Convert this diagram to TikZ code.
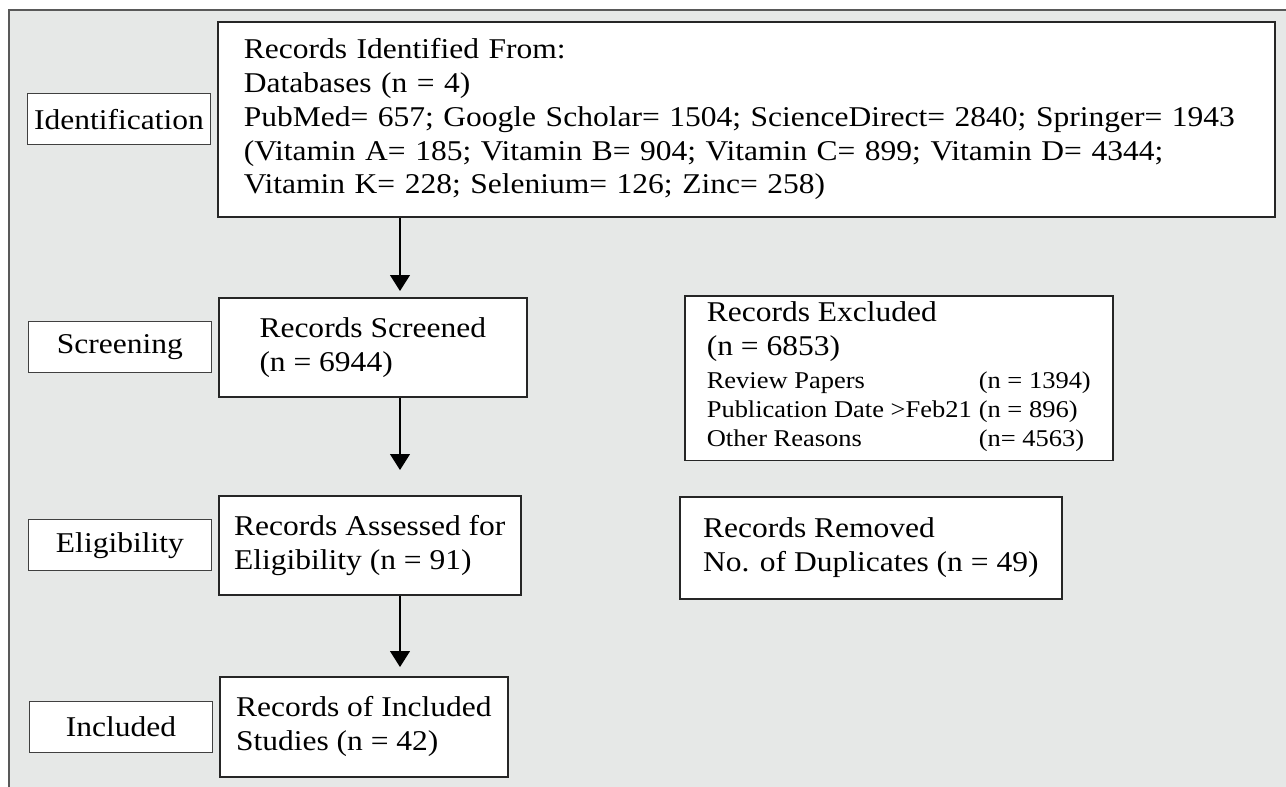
\documentclass[tikz,border=0pt]{standalone}
\usepackage{fontspec}
\setmainfont{Liberation Serif}[FakeStretch=1.1]
\usepackage{tikz}
\usetikzlibrary{arrows.meta, positioning}
\definecolor{panelgray}{HTML}{E6E8E7}

\begin{document}
\begin{tikzpicture}[
font=\fontsize{16.3}{19.2}\selectfont,
box/.style={rectangle, draw=black!85, line width=0.9pt, fill=white, align=left, anchor=north west},
stage/.style={rectangle, draw=black!75, line width=0.7pt, fill=white, minimum width=3.66cm, minimum height=1.02cm},
arrow/.style={-{Triangle[length=0.32cm, width=0.4cm]}, line width=0.6pt}
]

\clip (0,0) rectangle (25.72,15.72);
\draw[fill=panelgray, draw=black!65, line width=0.9pt] (0.18,-1) rectangle (27,15.52);

\node[box, inner xsep=0.52cm, text width=20.1cm, minimum height=3.90cm] (recid) at (4.34,15.30) {Records Identified From:\\Databases (n = 4)\\PubMed= 657; Google Scholar= 1504; ScienceDirect= 2840; Springer= 1943\\(Vitamin A= 185; Vitamin B= 904; Vitamin C= 899; Vitamin D= 4344;\\Vitamin K= 228; Selenium= 126; Zinc= 258)};
\node[box, minimum width=6.16cm, minimum height=1.98cm] (scr) at (4.36,9.78) {Records Screened\\(n = 6944)};
\node[box, minimum width=6.04cm, minimum height=1.98cm] (ass) at (4.36,5.82) {Records Assessed for\\Eligibility (n = 91)};
\node[box, minimum width=5.76cm, minimum height=2.00cm] (inc) at (4.38,2.20) {Records of Included\\Studies (n = 42)};
\node[box, minimum width=8.56cm, minimum height=3.28cm] (excl) at (13.68,9.82) {Records Excluded\\(n = 6853)\\[3pt]
{\fontsize{13.7}{16.4}\selectfont\begin{tabular}{@{}l@{\hspace{0.14cm}}l@{}}
Review Papers & (n = 1394)\\
Publication Date >Feb21 & (n = 896)\\
Other Reasons & (n= 4563)
\end{tabular}}};
\node[box, minimum width=7.64cm, minimum height=2.04cm] (rem) at (13.58,5.80) {Records Removed\\No. of Duplicates (n = 49)};

\node[stage, left=0.12cm of recid] (ident) {Identification};
\node[stage, left=0.12cm of scr] (screen) {Screening};
\node[stage, left=0.12cm of ass] (elig) {Eligibility};
\node[stage, left=0.12cm of inc] (incl) {Included};

\coordinate (axis) at (8,0);
\draw[arrow, shorten >=0.12cm] (recid.south -| axis) -- (scr.north -| axis);
\draw[arrow, shorten >=0.5cm] (scr.south -| axis) -- (ass.north -| axis);
\draw[arrow, shorten >=0.18cm] (ass.south -| axis) -- (inc.north -| axis);

\end{tikzpicture}
\end{document}
